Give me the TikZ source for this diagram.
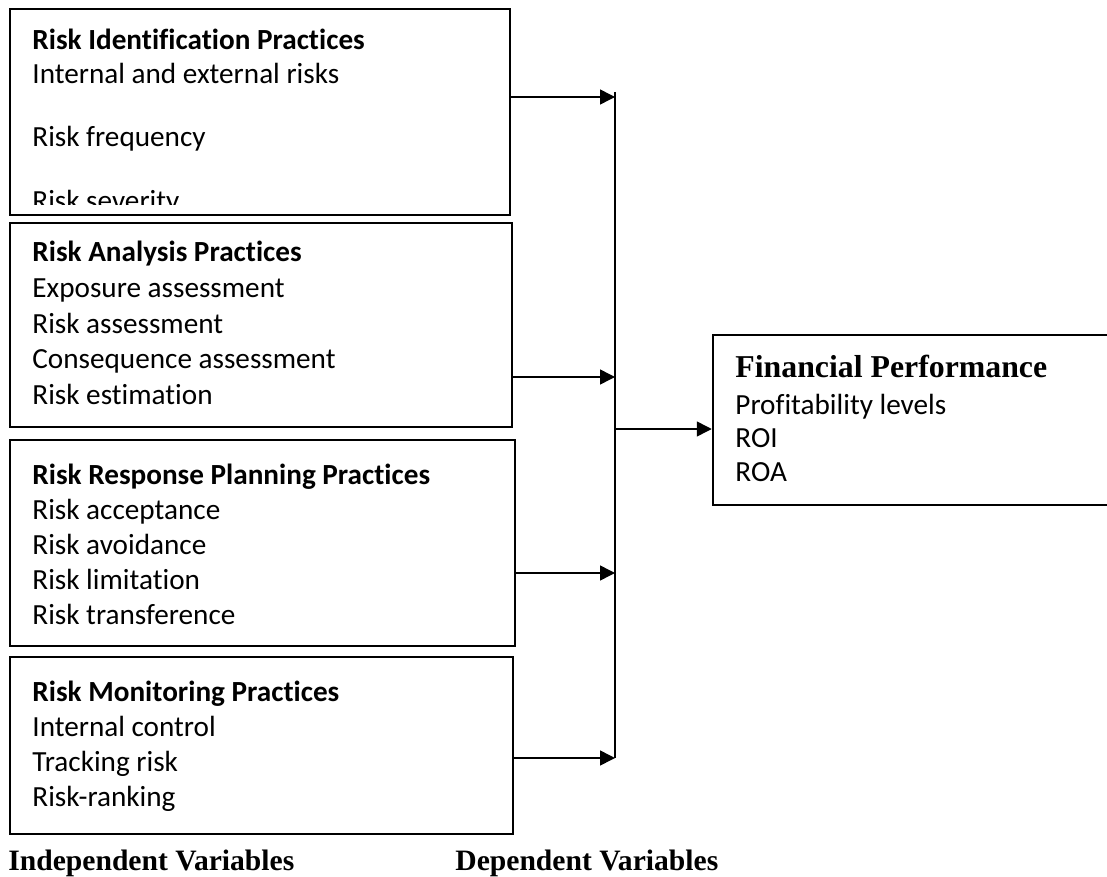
\documentclass[tikz,border=0pt]{standalone}
\usepackage{fontspec}
\setmainfont{Carlito}[Ligatures=NoCommon]
\newfontfamily\timesfont{Liberation Serif}
\usetikzlibrary{arrows.meta,fit}

\tikzset{
  box/.style={draw, line width=1.25pt, inner sep=0pt},
  head/.style={anchor=base west, inner sep=0pt, font=\fontsize{14.6}{17}\selectfont\bfseries},
  item/.style={anchor=base west, inner sep=0pt, font=\fontsize{14.6}{17}\selectfont},
  caption/.style={anchor=base west, inner sep=0pt, font=\timesfont\fontsize{14.8}{17}\selectfont\bfseries},
  link/.style={line width=0.75pt, -{Triangle[length=7.5pt,width=7.5pt]}},
}

\begin{document}
\begin{tikzpicture}[x=0.5pt,y=-0.5pt]
\useasboundingbox (0,0) rectangle (1107,877);
% boxes on the left
\node[box, fit={(10,9) (510,215)}] (ident) {};
\node[box, fit={(10,223) (512,427)}] (anal) {};
\node[box, fit={(10,440) (515,646)}] (resp) {};
\node[box, fit={(10,657) (513,834)}] (moni) {};
% box on the right, cut by the page edge
\node[box, fit={(713,335) (1130,505)}] (fin) {};

% texts of the first box, cut at the bottom
\begin{scope}
\clip (10,9) rectangle (510,205);
\node[head] (ident0) at (32,50) {Risk Identification Practices};
\node[item] (ident1) at (32,84) {Internal and external risks};
\node[item] (ident2) at (32,147) {Risk frequency};
\node[item] (ident3) at (32,211) {Risk severity};
\end{scope}

\node[head] (anal0) at (32,262) {Risk Analysis Practices};
\foreach \t [count=\i] in {Exposure assessment, Risk assessment, Consequence assessment, Risk estimation}
  \node[item] (anal\i) at (32,{262+35.5*\i}) {\t};

\node[head] (resp0) at (32,484) {Risk Response Planning Practices};
\foreach \t [count=\i] in {Risk acceptance, Risk avoidance, Risk limitation, Risk transference}
  \node[item] (resp\i) at (32,{484+35*\i}) {\t};

\node[head] (moni0) at (32,701) {Risk Monitoring Practices};
\foreach \t [count=\i] in {Internal control, Tracking risk, Risk-ranking}
  \node[item] (moni\i) at (32,{701+35*\i}) {\t};

\node[anchor=base west, inner sep=0pt, font=\timesfont\fontsize{15.9}{19}\selectfont\bfseries] (fin0) at (735,377) {Financial Performance};
\foreach \t [count=\i] in {Profitability levels, ROI, ROA}
  \node[item] (fin\i) at (735,{380.5+33.5*\i}) {\t};

% vertical bus and arrows
\coordinate (bustop) at (615,92);
\coordinate (busbot) at (615,758);
\draw[line width=0.75pt] (bustop) -- (busbot);
\coordinate (j1) at (615,97);
\coordinate (j2) at (615,377);
\coordinate (j3) at (615,573);
\coordinate (j4) at (615,758);
\coordinate (jm) at (615,429);
\draw[link] (ident.east |- j1) -- (j1);
\draw[link] (anal.east |- j2) -- (j2);
\draw[link] (resp.east |- j3) -- (j3);
\draw[link] (moni.east |- j4) -- (j4);
\draw[link] (jm) -- (jm -| fin.west);

\node[caption] (indep) at (8,870) {Independent Variables};
\node[caption] (dep) at (455,870) {Dependent Variables};
\end{tikzpicture}
\end{document}
